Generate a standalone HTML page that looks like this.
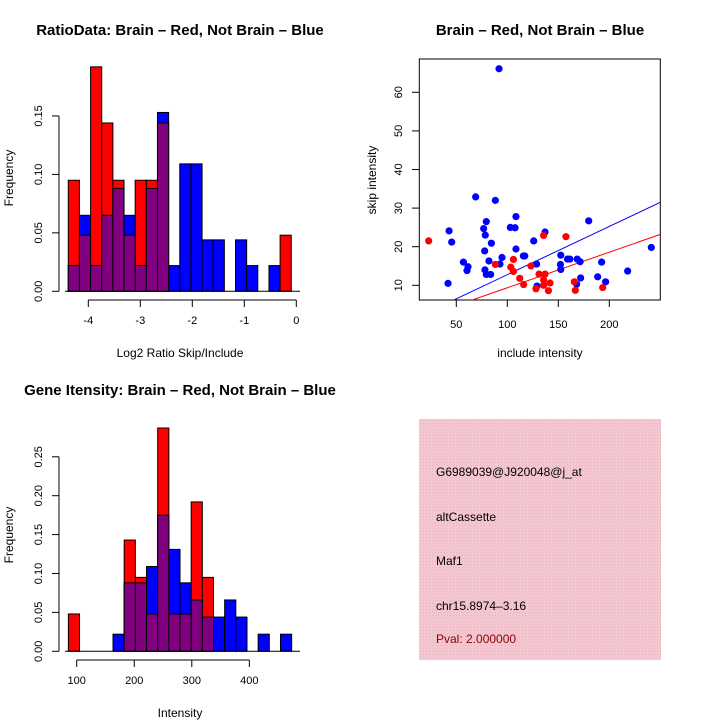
<!DOCTYPE html>
<html><head><meta charset="utf-8"><style>
body{margin:0;background:#fff;}
svg{display:block;font-family:"Liberation Sans",Arial,sans-serif;}
</style></head><body>
<svg id="c" width="720" height="720" viewBox="0 0 720 720">
<defs>
<pattern id="hatch" width="3" height="3" patternUnits="userSpaceOnUse">
<rect width="3" height="3" fill="#f4c6cf"/><rect width="1" height="1" fill="#e8b4c0"/>
</pattern>
</defs>
<text x="180" y="35" text-anchor="middle" font-size="15" font-weight="bold">RatioData: Brain – Red, Not Brain – Blue</text>
<text x="540" y="35" text-anchor="middle" font-size="15" font-weight="bold">Brain – Red, Not Brain – Blue</text>
<text x="180" y="395" text-anchor="middle" font-size="15" font-weight="bold">Gene Itensity: Brain – Red, Not Brain – Blue</text>
<text x="180" y="357" text-anchor="middle" font-size="12">Log2 Ratio Skip/Include</text>
<text transform="translate(13,178) rotate(-90)" text-anchor="middle" font-size="12">Frequency</text>
<text x="540" y="357" text-anchor="middle" font-size="12">include intensity</text>
<text transform="translate(376,180) rotate(-90)" text-anchor="middle" font-size="12">skip intensity</text>
<text x="180" y="717" text-anchor="middle" font-size="12">Intensity</text>
<text transform="translate(13,535) rotate(-90)" text-anchor="middle" font-size="12">Frequency</text>
<rect x="419" y="419" width="242" height="241" fill="url(#hatch)"/>
<g font-size="12">
<text x="436" y="476">G6989039@J920048@j_at</text>
<text x="436" y="521">altCassette</text>
<text x="436" y="565">Maf1</text>
<text x="436" y="610">chr15.8974–3.16</text>
<text x="436" y="643" fill="#8b0000">Pval: 2.000000</text>
</g>
<g id="g1"></g><g id="g2"></g><g id="g3"></g>
</svg>
<script>
// Ratio histogram
const ratioStart=-4.385, ratioWidth=0.2144;
const ratioRed=[0.095,0.048,0.192,0.144,0.095,0.048,0.095,0.095,0.144,0,0,0,0,0,0,0,0,0,0,0.048];
const ratioBlue=[0.022,0.065,0.022,0.065,0.088,0.065,0.022,0.088,0.153,0.022,0.109,0.109,0.044,0.044,0,0.044,0.022,0,0.022,0];
const ratioXTicks=[-4,-3,-2,-1,0];
const ratioYTicks=["0.00","0.05","0.10","0.15"];
// Intensity histogram
const intStart=85.5, intWidth=19.4;
const intRed=[0.048,0,0,0,0,0.143,0.095,0.048,0.287,0.048,0.048,0.192,0.095,0,0,0,0,0,0,0];
const intBlue=[0,0,0,0,0.022,0.088,0.088,0.109,0.175,0.131,0.088,0.066,0.044,0.044,0.066,0.044,0,0.022,0,0.022];
const intXTicks=[100,200,300,400];
const intYTicks=["0.00","0.05","0.10","0.15","0.20","0.25"];
// Scatter
const blueX=[91.9,69,88.3,108.5,79.4,179.8,103,107.6,76.8,42.9,137,78.4,45.5,84.4,125.9,108.5,77.8,94.8,117.1,115.8,152.4,159,161.3,168.5,171.4,82,57,61.5,60.5,92.8,128.7,152.1,152.4,192.5,241.2,218,78.1,79.4,83.7,188.6,171.9,196.4,168,129.1,41.9];
const blueY=[66.1,32.9,32,27.8,26.5,26.7,25,24.9,24.7,24.1,23.8,23,21.2,20.9,21.5,19.4,18.9,17.2,17.6,17.6,17.8,16.8,16.8,16.8,16.1,16.3,16,14.8,13.8,15.5,15.5,15.4,14.1,16,19.8,13.7,14,12.8,12.8,12.2,11.9,10.9,10.3,9.8,10.5];
const redX=[22.9,135.6,157.5,88.3,106,103.4,106,123.2,112.2,116,131.1,137,135.6,141.9,135.6,128.1,140.3,165.7,166.7,193.5];
const redY=[21.5,22.9,22.6,15.4,16.7,14.7,13.6,15,11.8,10.2,12.9,12.9,11.4,10.6,10,9.1,8.6,10.9,8.7,9.4];
const blueFit=[0.25,0.125];
const redFit=[0.14,0.0922];
const scXTicks=[50,100,150,200];
const scYTicks=[10,20,30,40,50,60];

const NS="http://www.w3.org/2000/svg";
function mk(p,t,a){const e=document.createElementNS(NS,t);for(const k in a)e.setAttribute(k,a[k]);p.appendChild(e);return e;}

function hist(g,start,w,red,blue,sx,sy,base,name){
  const n=red.length;
  for(let i=0;i<n;i++){
    const x0=sx(start+i*w),x1=sx(start+(i+1)*w);
    if(blue[i]>0){const r=mk(g,'rect',{x:x0,y:sy(blue[i]),width:x1-x0,height:base-sy(blue[i]),fill:'#0000ff',stroke:'#000','stroke-width':1});
      
      }
  }
  for(let i=0;i<n;i++){
    const x0=sx(start+i*w),x1=sx(start+(i+1)*w);
    if(red[i]>0){const r=mk(g,'rect',{x:x0,y:sy(red[i]),width:x1-x0,height:base-sy(red[i]),fill:'#ff0000',stroke:'#000','stroke-width':1});
      
      }
  }
  for(let i=0;i<n;i++){
    const x0=sx(start+i*w),x1=sx(start+(i+1)*w);const m=Math.min(red[i],blue[i]);
    if(m>0){const r=mk(g,'rect',{x:x0,y:sy(m),width:x1-x0,height:base-sy(m),fill:'#800080',stroke:'#000','stroke-width':1});
      
      }
  }
}
function yaxis(g,ticks,sy,x,name){
  mk(g,'line',{x1:x,x2:x,y1:sy(+ticks[0]),y2:sy(+ticks[ticks.length-1]),stroke:'#000'});
  ticks.forEach(t=>{const y=sy(+t);mk(g,'line',{x1:x-7,x2:x,y1:y,y2:y,stroke:'#000'});
    const tx=mk(g,'text',{transform:`translate(${x-17},${y}) rotate(-90)`,'text-anchor':'middle','font-size':11});tx.textContent=t;
    
    });
}
function xaxis(g,ticks,sx,y,name){
  mk(g,'line',{x1:sx(ticks[0]),x2:sx(ticks[ticks.length-1]),y1:y,y2:y,stroke:'#000'});
  ticks.forEach(t=>{const x=sx(t);mk(g,'line',{x1:x,x2:x,y1:y,y2:y+7,stroke:'#000'});
    const tx=mk(g,'text',{x:x,y:y+24,'text-anchor':'middle','font-size':11});tx.textContent=String(t);
    
    });
}
// panel 1
{const g=document.getElementById('g1');
 const sx=v=>296.3+v*52, sy=v=>291.3-v*1169;
 hist(g,ratioStart,ratioWidth,ratioRed,ratioBlue,sx,sy,291.3,'ratio');
 mk(g,'line',{x1:65,x2:300,y1:291.3,y2:291.3,stroke:'#000'});
 yaxis(g,ratioYTicks,sy,59,'ratio');xaxis(g,ratioXTicks,sx,300,'ratio');}
// panel 3
{const g=document.getElementById('g3');
 const sx=v=>76.7+(v-100)*0.5755, sy=v=>651.3-v*778;
 hist(g,intStart,intWidth,intRed,intBlue,sx,sy,651.3,'intensity');
 mk(g,'line',{x1:65,x2:300,y1:651.3,y2:651.3,stroke:'#000'});
 yaxis(g,intYTicks,sy,59,'intensity');xaxis(g,intXTicks,sx,660,'intensity');}
// panel 2
{const g=document.getElementById('g2');
 const sx=v=>456.3+(v-50)*1.02, sy=v=>285.3-(v-10)*3.86;
 mk(g,'rect',{x:419.3,y:59,width:241,height:241,fill:'none',stroke:'#000'});
 const cp=mk(g,'clipPath',{id:'cp'});mk(cp,'rect',{x:419.3,y:59,width:241,height:241});
 const lg=mk(g,'g',{'clip-path':'url(#cp)'});
 [[blueFit,'#0000ff','blue-fit-line'],[redFit,'#ff0000','red-fit-line']].forEach(([f,c,n])=>{
   const l=mk(lg,'line',{x1:sx(0),y1:sy(f[0]),x2:sx(270),y2:sy(f[0]+f[1]*270),stroke:c,'stroke-width':1});
   
   });
 blueX.forEach((x,i)=>{const c=mk(g,'circle',{cx:sx(x),cy:sy(blueY[i]),r:3.6,fill:'#0000ff'});
   
   });
 redX.forEach((x,i)=>{const c=mk(g,'circle',{cx:sx(x),cy:sy(redY[i]),r:3.6,fill:'#ff0000'});
   
   });
 scXTicks.forEach(t=>{const x=sx(t);mk(g,'line',{x1:x,x2:x,y1:300,y2:307,stroke:'#000'});
   const tx=mk(g,'text',{x:x,y:328,'text-anchor':'middle','font-size':11});tx.textContent=t;
   
   });
 scYTicks.forEach(t=>{const y=sy(t);mk(g,'line',{x1:412,x2:419.3,y1:y,y2:y,stroke:'#000'});
   const tx=mk(g,'text',{transform:`translate(402,${y}) rotate(-90)`,'text-anchor':'middle','font-size':11});tx.textContent=t;
   
   });}
</script>
</body></html>
